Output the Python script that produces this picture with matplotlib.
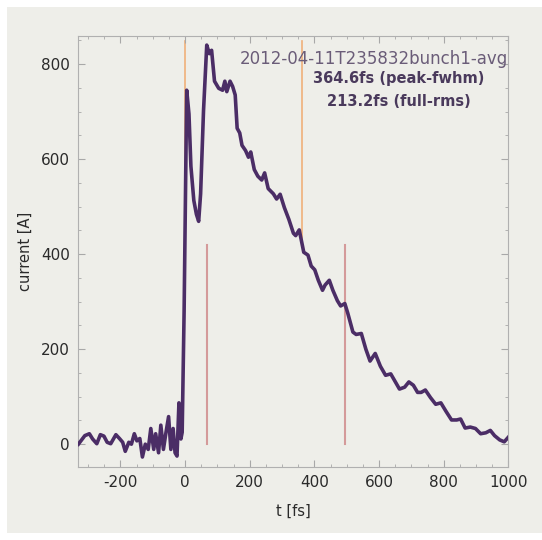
import matplotlib
matplotlib.use('Agg')
import matplotlib.pyplot as plt
from matplotlib.patches import Rectangle
from matplotlib.ticker import MultipleLocator

plt.rcParams['axes.unicode_minus'] = False

# bunch current profile
t_fs = [-330, -310, -296, -286, -273, -262, -251, -241, -230, -214, -203, -193,
        -185, -174, -166, -157, -149, -140, -132, -123, -114, -106, -97, -91,
        -82, -75, -67, -59, -51, -44, -37, -31, -25, -19, -13, -9, -3, 5, 12,
        18, 27, 35, 42, 48, 57, 67, 75, 82, 91, 104, 116, 123, 129, 139, 147,
        155, 161, 169, 176, 187, 196, 203, 214, 225, 237, 246, 257, 273, 283,
        294, 307, 321, 335, 342, 353, 367, 380, 390, 401, 412, 425, 433, 446,
        457, 471, 481, 494, 503, 519, 529, 545, 559, 572, 588, 604, 620, 636,
        647, 663, 679, 692, 706, 719, 730, 743, 759, 775, 791, 807, 824, 840,
        852, 866, 882, 898, 914, 930, 944, 957, 973, 987, 1000]
current_A = [0, 18, 22, 11, 1, 20, 17, 4, 1, 20, 12, 4,
             -15, 4, 0, 22, 7, 12, -27, 0, -11, 33, -11, 22,
             -18, 40, -11, 25, 58, -11, 33, -18, -25, 87, 11, 25, 280, 745, 695,
             585, 513, 484, 469, 527, 702, 840, 822, 829, 764, 749, 745, 764, 742, 764, 753,
             735, 665, 655, 629, 618, 604, 615, 578, 564, 556, 571, 538, 527, 516,
             526, 498, 473, 444, 439, 451, 404, 398, 375, 367, 345, 324, 335, 345,
             324, 302, 291, 296, 276, 236, 231, 233, 200, 175, 191, 164, 145, 148,
             135, 116, 120, 131, 124, 109, 109, 114, 98, 84, 87, 69, 51, 51,
             53, 34, 36, 33, 22, 24, 29, 18, 9, 5, 15]

fwhm_edges = [-1, 362]      # orange markers
rms_edges = [68, 494]       # red markers
half_max = 420
peak_top = 848

title = '2012-04-11T235832bunch1-avg'
fwhm_label = '364.6fs (peak-fwhm)'
rms_label = '213.2fs (full-rms)'

bg = '#eeeee9'
fig = plt.figure(figsize=(5.42, 5.40), dpi=100, facecolor='white')
fig.patches.append(Rectangle((7 / 542, 7 / 540), 1, 526 / 540,
                             transform=fig.transFigure, facecolor=bg,
                             edgecolor='none', zorder=-10))

ax = fig.add_axes([0.1446, 0.1352, 0.7935, 0.7989])
ax.set_facecolor(bg)

for x in fwhm_edges:
    ax.plot([x, x], [half_max, peak_top], color='#f0b07a', lw=1.2, zorder=1)
for x in rms_edges:
    ax.plot([x, x], [0, half_max], color='#d49a9a', lw=1.5, zorder=1)

ax.plot(t_fs, current_A, color='#4b2d66', lw=2.6, zorder=3)

ax.set_xlim(-330, 1000)
ax.set_ylim(-48, 860)
ax.xaxis.set_major_locator(MultipleLocator(200))
ax.xaxis.set_minor_locator(MultipleLocator(50))
ax.yaxis.set_major_locator(MultipleLocator(200))
ax.yaxis.set_minor_locator(MultipleLocator(50))
ax.tick_params(which='both', direction='in', top=True, right=True,
               color='#a8a8a8', labelsize=11, labelcolor='#2a2a2a')
ax.tick_params(which='major', length=5, width=0.8, pad=6)
ax.tick_params(which='minor', length=2.5, width=0.6)
for s in ax.spines.values():
    s.set_color('#b0b0b0')
    s.set_linewidth(0.8)

ax.set_xlabel('t [fs]', fontsize=10.5, color='#2a2a2a', labelpad=10)
ax.set_ylabel('current [A]', fontsize=10.5, color='#2a2a2a', labelpad=6)

ax.text(1.0, 0.945, title, transform=ax.transAxes, ha='right', va='center',
        fontsize=12, color='#6a5c78')
ax.text(0.745, 0.9, fwhm_label, transform=ax.transAxes, ha='center',
        va='center', fontsize=10.5, fontweight='bold', color='#4a3a5c')
ax.text(0.745, 0.847, rms_label, transform=ax.transAxes, ha='center',
        va='center', fontsize=10.5, fontweight='bold', color='#4a3a5c')

fig.savefig('out.png', dpi=100, facecolor=fig.get_facecolor())
